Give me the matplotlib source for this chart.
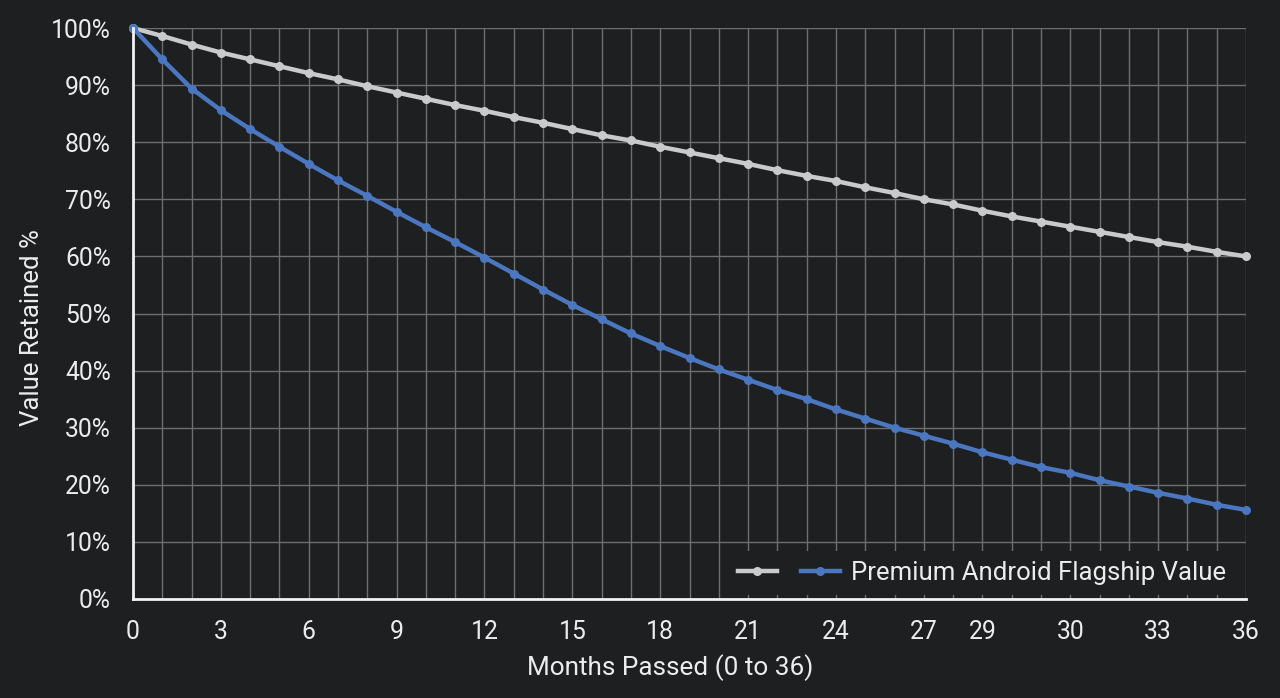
import numpy as np
import matplotlib
matplotlib.use("Agg")
import matplotlib.pyplot as plt

# Werte, ein Punkt pro Gitterlinie
grey_values = [100, 98.6, 97.1, 95.7, 94.5, 93.3, 92.1, 91.0, 89.8, 88.7,
               87.6, 86.5, 85.5, 84.4, 83.4, 82.3, 81.2, 80.3, 79.2, 78.2,
               77.2, 76.2, 75.1, 74.1, 73.2, 72.1, 71.1, 70.0, 69.1, 68.0,
               67.0, 66.1, 65.2, 64.3, 63.4, 62.5, 61.7, 60.8, 60.0]
flagship_values = [100, 94.5, 89.4, 85.6, 82.3, 79.2, 76.2, 73.3, 70.6, 67.8,
                   65.1, 62.5, 59.8, 57.0, 54.2, 51.5, 49.0, 46.5, 44.3, 42.2,
                   40.2, 38.4, 36.6, 35.0, 33.2, 31.6, 30.0, 28.6, 27.2, 25.7,
                   24.4, 23.1, 22.1, 20.8, 19.7, 18.6, 17.6, 16.5, 15.6]

# Beschriftung der x-Achse (so wie im Original)
xtick_pos = [0, 3, 6, 9, 12, 15, 18, 21, 24, 27, 29, 32, 35, 38]
xtick_labels = ['0', '3', '6', '9', '12', '15', '18', '21', '24', '27', '29', '30', '33', '36']
ytick_vals = [0, 10, 20, 30, 40, 50, 60, 70, 80, 90, 100]

bg = '#1e1f20'
fg = '#ececec'
fs = 18.5
plt.rcParams['font.family'] = ['Roboto', 'DejaVu Sans']

x = np.arange(len(flagship_values))

fig = plt.figure(figsize=(12.8, 6.98), dpi=100, facecolor=bg)
ax = fig.add_axes([133/1280, 1 - 599/698, (1246-133)/1280, (599-28)/698])
ax.set_facecolor(bg)

ax.plot(x, grey_values, color='#c9cacb', lw=3.2, marker='o', ms=5.5, clip_on=False, zorder=3)
ax.plot(x, flagship_values, color='#4a77bf', lw=3.2, marker='o', ms=5.5, clip_on=False, zorder=4)

ax.set_xlim(0, 38)
ax.set_ylim(0, 100)
ax.set_xticks(x, minor=True)
ax.set_xticks(xtick_pos)
ax.set_xticklabels(xtick_labels)
ax.set_yticks(ytick_vals)
ax.set_yticklabels(['%d%%' % v for v in ytick_vals])

ax.grid(True, which='both', axis='x', color='#6e6e6e', lw=1)
ax.grid(True, which='major', axis='y', color='#6e6e6e', lw=1)
ax.set_axisbelow(True)

ax.tick_params(which='both', length=0, colors=fg, labelsize=17.8)
ax.tick_params(axis='x', pad=15)
ax.tick_params(axis='y', pad=16)
for s in ['top', 'right']:
    ax.spines[s].set_visible(False)
for s in ['left', 'bottom']:
    ax.spines[s].set_color('#f2f2f2')
    ax.spines[s].set_linewidth(2)
    ax.spines[s].set_zorder(5)

ax.set_xlabel('Months Passed (0 to 36)', color=fg, fontsize=18.8)
ax.set_ylabel('Value Retained %', color=fg, fontsize=fs)
ax.xaxis.set_label_coords(0.4825, -0.097)
ax.yaxis.set_label_coords(-0.080, 0.475)

lines = ax.get_lines()
leg = ax.legend(lines, ['', 'Premium Android Flagship Value'], ncol=2, loc='lower right',
                fontsize=fs, frameon=True, facecolor=bg, edgecolor='none', framealpha=1,
                handlelength=1.5, columnspacing=0.5, handletextpad=0.45,
                borderaxespad=0.15, labelcolor=fg, bbox_to_anchor=(0.995, 0.0))

fig.savefig('out.png', dpi=100, facecolor=bg)
